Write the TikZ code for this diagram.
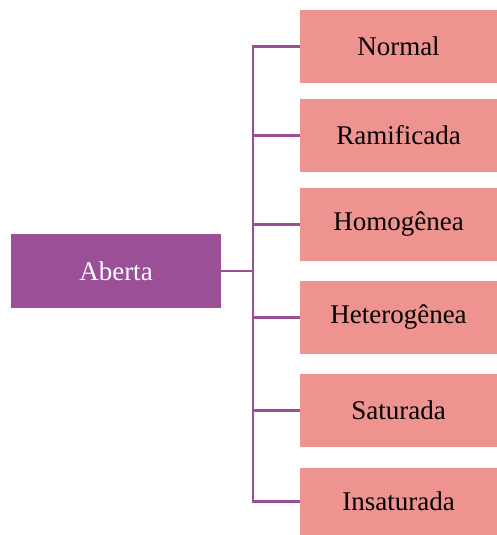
\documentclass[tikz,border=0pt]{standalone}
\usepackage{fontspec}
\setmainfont{Liberation Serif}
\definecolor{plum}{HTML}{9B4F96}
\definecolor{salmon}{HTML}{EF9390}
\begin{document}
\begin{tikzpicture}[x=1pt,y=-1pt,
  rootbox/.style={rectangle, fill=plum, text=white, minimum width=210pt, minimum height=74pt, inner sep=0pt, font=\fontsize{27}{31}\selectfont},
  leafbox/.style={rectangle, fill=salmon, text=black, minimum width=197pt, inner sep=0pt, font=\fontsize{27}{31}\selectfont},
  conn/.style={draw=plum, line width=2.5pt}]
\useasboundingbox (0,0) rectangle (497,535);
\node[rootbox] (aberta) at (116,271) {Aberta};
\node[leafbox, minimum height=73pt] (normal) at (398.5,46.5) {Normal};
\node[leafbox, minimum height=73pt] (ramificada) at (398.5,135.5) {Ramificada};
\node[leafbox, minimum height=73pt] (homogenea) at (398.5,224.5) {Homogênea};
\node[leafbox, minimum height=73pt] (heterogenea) at (398.5,317.5) {Heterogênea};
\node[leafbox, minimum height=73pt] (saturada) at (398.5,410.5) {Saturada};
\node[leafbox, minimum height=67pt] (insaturada) at (398.5,501.5) {Insaturada};
\coordinate (bus) at (253,271);
\draw[conn] (aberta.east) -- (bus);
\foreach \b in {normal,ramificada,homogenea,heterogenea,saturada,insaturada}
  \draw[conn] (bus) |- (\b.west);
\end{tikzpicture}
\end{document}
